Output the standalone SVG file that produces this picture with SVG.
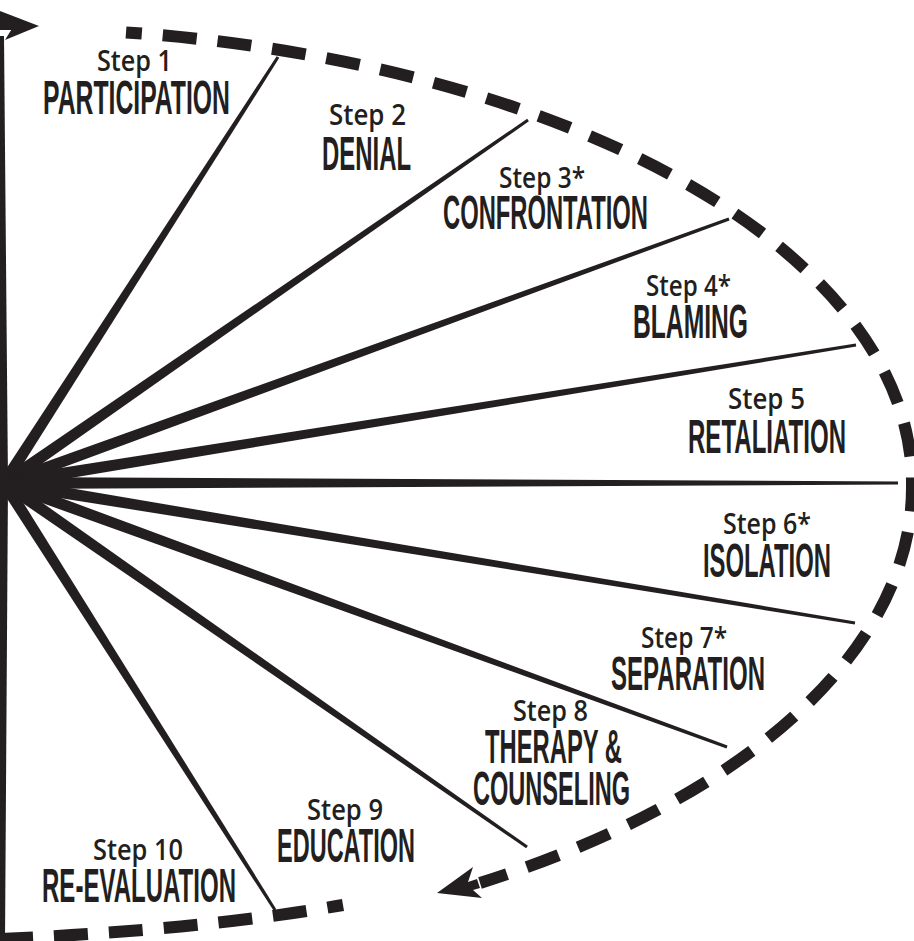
<svg xmlns="http://www.w3.org/2000/svg" width="914" height="941" viewBox="0 0 914 941">
<style>
  .bg{fill:#ffffff}
  .ink{fill:#231f20}
  .dash{fill:none;stroke:#231f20;stroke-width:12;stroke-dasharray:34 21;stroke-linecap:butt}
  .step{font-family:"Open Sans","Liberation Sans",sans-serif;font-weight:600;font-size:28px;fill:#231f20}
  .name{font-family:"Liberation Sans","Arial",sans-serif;font-weight:bold;font-size:49px;fill:#231f20}
</style>
<rect class="bg" x="0" y="0" width="914" height="941"/>
<g id="connectors">
  <!-- vertical axis and top arrow -->
  <polygon class="ink" points="0,36 4,36 8,483 5,941 0,941"/>
  <polygon class="ink" points="0,11 39,26 5,40 13,27 0,29"/>
  <rect class="ink" x="0" y="21" width="14" height="9"/>
  <!-- spokes -->
  <polygon class="ink" points="-1,479.8 276.7,56.2 279.3,57.8 9,486.2"/>
  <polygon class="ink" points="0.6,478.1 527.2,118.8 528.9,121.2 7.4,487.9"/>
  <polygon class="ink" points="2,477.4 728.5,217.6 729.5,220.4 6,488.6"/>
  <polygon class="ink" points="3,477.1 855.8,343.5 856.2,346.5 5,488.9"/>
  <polygon class="ink" points="4,477 898,481.5 898,484.5 4,489"/>
  <polygon class="ink" points="5,477.1 855.2,621.5 854.8,624.5 3,488.9"/>
  <polygon class="ink" points="6,477.4 727.5,745.6 726.5,748.4 2,488.6"/>
  <polygon class="ink" points="7.4,478.1 527.9,845.8 526.1,848.2 0.6,487.9"/>
  <polygon class="ink" points="9,479.8 276.3,909.2 273.7,910.8 -1,486.2"/>
  <circle class="ink" cx="5" cy="483" r="9"/>
  <!-- dashed cycle -->
  <path class="dash" stroke-dashoffset="18" d="M126,32.4 A912,455 0 0 1 912,483 L912,488 A912,465 0 0 1 480,883"/>
  <polygon class="ink" points="437,893 473,867 468,882 477,879 480,888 473,890 482,898"/>
  <path class="dash" stroke-dashoffset="18" d="M343,905 Q200,930 0,939"/>
</g>
<g id="step1"><text class="step" x="97" y="71" textLength="75" lengthAdjust="spacingAndGlyphs">Step 1</text><text class="name" x="43" y="114" textLength="187" lengthAdjust="spacingAndGlyphs">PARTICIPATION</text></g>
<g id="step2"><text class="step" x="329" y="125" textLength="77" lengthAdjust="spacingAndGlyphs">Step 2</text><text class="name" x="322" y="170" textLength="89" lengthAdjust="spacingAndGlyphs">DENIAL</text></g>
<g id="step3"><text class="step" x="499" y="188" textLength="86" lengthAdjust="spacingAndGlyphs">Step 3*</text><text class="name" x="443" y="229" textLength="205" lengthAdjust="spacingAndGlyphs">CONFRONTATION</text></g>
<g id="step4"><text class="step" x="646" y="296" textLength="85" lengthAdjust="spacingAndGlyphs">Step 4*</text><text class="name" x="633" y="338" textLength="115" lengthAdjust="spacingAndGlyphs">BLAMING</text></g>
<g id="step5"><text class="step" x="728" y="409" textLength="77" lengthAdjust="spacingAndGlyphs">Step 5</text><text class="name" x="688" y="453" textLength="158" lengthAdjust="spacingAndGlyphs">RETALIATION</text></g>
<g id="step6"><text class="step" x="723" y="534" textLength="88" lengthAdjust="spacingAndGlyphs">Step 6*</text><text class="name" x="703" y="577" textLength="128" lengthAdjust="spacingAndGlyphs">ISOLATION</text></g>
<g id="step7"><text class="step" x="641" y="648" textLength="86" lengthAdjust="spacingAndGlyphs">Step 7*</text><text class="name" x="611" y="690" textLength="154" lengthAdjust="spacingAndGlyphs">SEPARATION</text></g>
<g id="step8"><text class="step" x="513" y="721" textLength="75" lengthAdjust="spacingAndGlyphs">Step 8</text><text class="name" x="485" y="763" textLength="137" lengthAdjust="spacingAndGlyphs">THERAPY &amp;</text><text class="name" x="473" y="805" textLength="157" lengthAdjust="spacingAndGlyphs">COUNSELING</text></g>
<g id="step9"><text class="step" x="307" y="820" textLength="76" lengthAdjust="spacingAndGlyphs">Step 9</text><text class="name" x="277" y="862" textLength="138" lengthAdjust="spacingAndGlyphs">EDUCATION</text></g>
<g id="step10"><text class="step" x="93" y="860" textLength="90" lengthAdjust="spacingAndGlyphs">Step 10</text><text class="name" x="42" y="902" textLength="194" lengthAdjust="spacingAndGlyphs">RE-EVALUATION</text></g>
</svg>
